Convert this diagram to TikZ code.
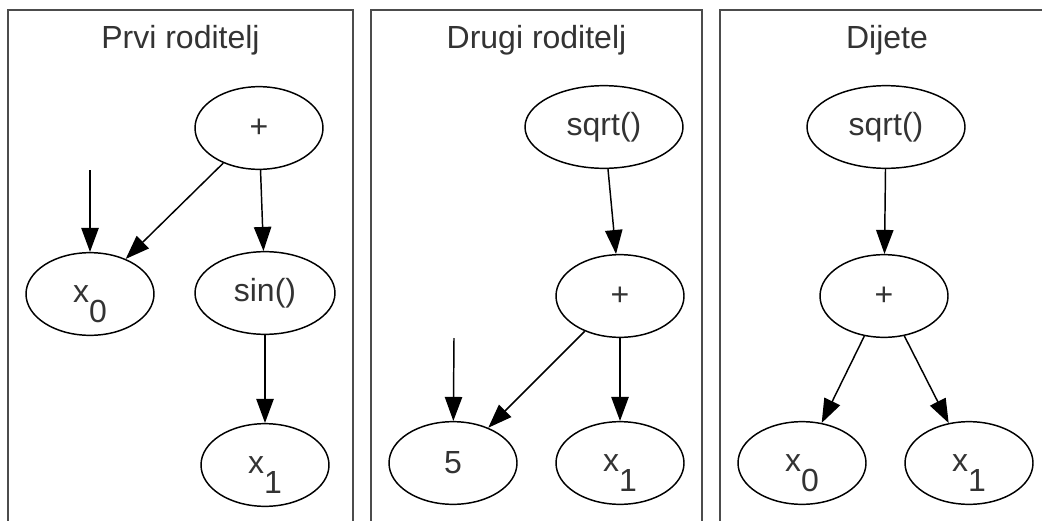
\documentclass[tikz,border=0pt]{standalone}
\usepackage{fontspec}
\setmainfont{Liberation Sans}
\usetikzlibrary{shapes.geometric,arrows.meta}
\newcommand{\xvar}[1]{x\smash{\raisebox{-15pt}{#1}}}

\begin{document}
\begin{tikzpicture}[x=0.75pt,y=-0.75pt,
    every node/.style={font=\fontsize{24}{28}\selectfont,text=black!80},
    op/.style={draw,ellipse,line width=1.1pt,inner sep=0pt,
               minimum width=96pt,minimum height=62pt},
    edge/.style={draw,line width=1.1pt,-{Triangle[length=18pt,width=13pt]}},
    frame/.style={draw=black!70,line width=1.5pt}]
  \useasboundingbox (0,0) rectangle (1042,521);

  % the three panels, open at the bottom
  \foreach \l/\r/\name in {8/353/Prvi roditelj,371/702/Drugi roditelj,720/1054/Dijete}{
    \draw[frame] (\l,521) -- (\l,10) -- (\r,10) -- (\r,521);
    \node[anchor=base] (title\l) at ({(\l+\r)/2},48) {\name};
  }

  % first parent
  \node[op] (pPlus) at (259,128) {+};
  \node[op] (pX0) at (90,294) {\xvar{0}};
  \node[op,minimum width=105pt] (pSin) at (265,293) {sin()};
  \node[op] (pX1) at (265,465) {\xvar{1}};
  \coordinate (pIn) at (90,170);

  % second parent
  \node[op,minimum width=118.5pt] (dSqrt) at (604,127) {sqrt()};
  \node[op] (dPlus) at (620,296) {+};
  \node[op] (dFive) at (453,463) {5};
  \node[op] (dX1) at (620,463) {\xvar{1}};
  \coordinate (dIn) at (454,338);

  % child
  \node[op,minimum width=118.5pt] (cSqrt) at (886,127) {sqrt()};
  \node[op] (cPlus) at (884,296) {+};
  \node[op] (cX0) at (802,463) {\xvar{0}};
  \node[op] (cX1) at (969,463) {\xvar{1}};

  % loop over the edges
  \foreach \from/\to in {pIn/pX0,pPlus/pX0,pPlus/pSin,pSin/pX1,
                         dSqrt/dPlus,dIn/dFive,dPlus/dFive,dPlus/dX1,
                         cSqrt/cPlus,cPlus/cX0,cPlus/cX1}{
    \path[edge] (\from) -- (\to);
  }
\end{tikzpicture}
\end{document}
